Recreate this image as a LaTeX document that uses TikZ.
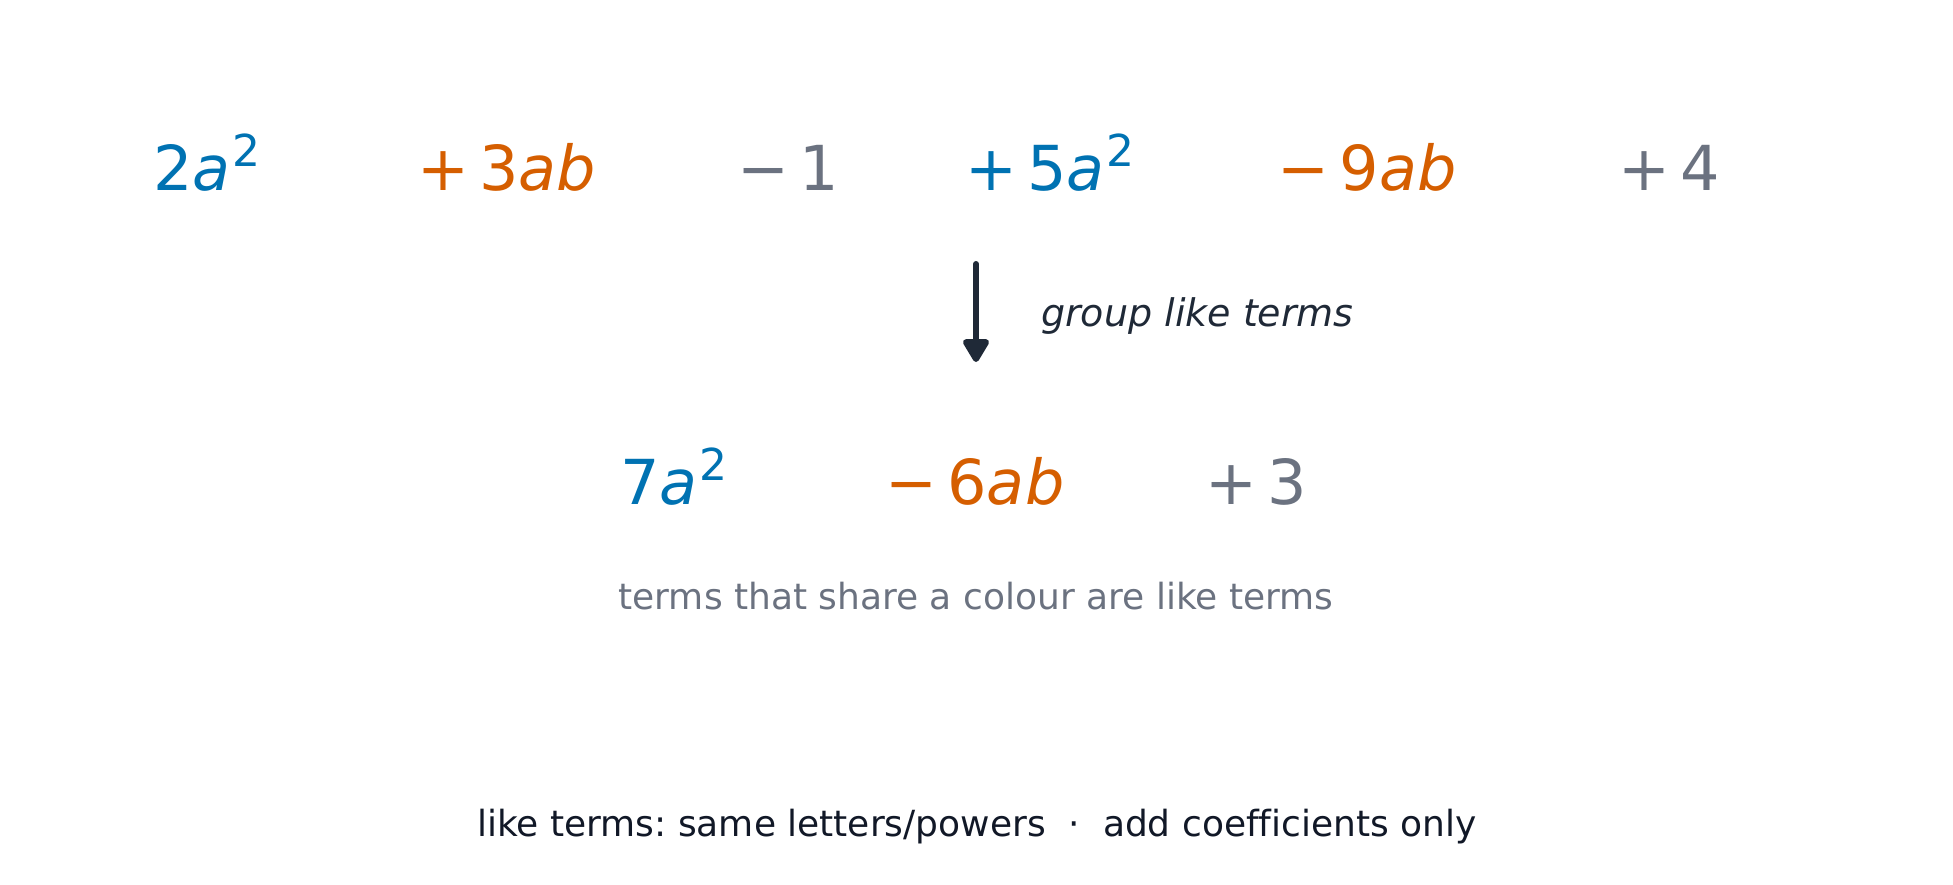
\documentclass[tikz,border=0pt]{standalone}
\usepackage{fontspec}
\setmainfont{DejaVu Sans}[Ligatures=NoCommon]
\usetikzlibrary{arrows.meta}
\definecolor{cblue}{HTML}{0072B2}
\definecolor{corange}{HTML}{D55E00}
\definecolor{cgray}{HTML}{6B7280}
\definecolor{cdark}{HTML}{1F2937}
\definecolor{cink}{HTML}{111827}
\newcommand{\sqtwo}{\hspace{0.03em}\raisebox{24pt}{\fontsize{44}{44}\selectfont 2}}
\newcommand{\bop}{\hspace{0.16em}}
\tikzset{
  term/.style={inner sep=0pt, anchor=base, font=\fontsize{62}{62}\selectfont},
  note/.style={inner sep=0pt, anchor=base, font=\fontsize{36}{36}\selectfont},
  grouparrow/.style={draw=cdark, fill=cdark, line width=6pt, line cap=round,
    -{Triangle[width=29pt,length=26pt,line join=round]}},
}
\frenchspacing
\begin{document}
\begin{tikzpicture}[x=1pt,y=-1pt]
\useasboundingbox (0,0) rectangle (1953,885);
% top row
\node[term, text=cblue]   (t1) at (207,191) {2\textit{a}\sqtwo};
\node[term, text=corange] (t2) at (507,191) {+\bop3\textit{ab}};
\node[term, text=cgray]   (t3) at (788,191) {−\bop1};
\node[term, text=cblue]   (t4) at (1050,191) {+\bop5\textit{a}\sqtwo};
\node[term, text=corange] (t5) at (1367,191) {−\bop9\textit{ab}};
\node[term, text=cgray]   (t6) at (1669,191) {+\bop4};
% arrow
\coordinate (atop) at (976,264);
\coordinate (abot) at (976,362);
\draw[grouparrow] (atop) -- (abot);
\node[note, anchor=base west, text=cdark, font=\fontsize{38}{38}\selectfont\itshape] (lbl) at (1041,326) {group like terms};
% result row
\node[term, text=cblue]   (r1) at (674,504) {7\textit{a}\sqtwo};
\node[term, text=corange] (r2) at (975,504) {−\bop6\textit{ab}};
\node[term, text=cgray]   (r3) at (1256,504) {+\bop3};
% captions
\node[note, text=cgray] (cap) at (976,609) {terms that share a colour are like terms};
\node[note, text=cink] (foot) at (977,836) {like terms: same letters/powers \ · \ add coefficients only};
\end{tikzpicture}
\end{document}
